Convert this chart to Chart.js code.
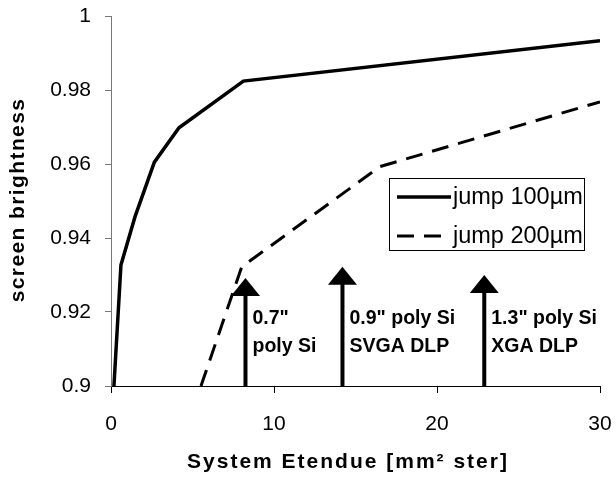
<!DOCTYPE html>
<html>
<head>
<meta charset="utf-8">
<script src="https://cdn.jsdelivr.net/npm/chart.js@4.4.1/dist/chart.umd.min.js"></script>
<style>
  html, body { margin: 0; padding: 0; background: #fff; }
  canvas { display: block; }
</style>
</head>
<body>
<canvas id="c" width="616" height="477"></canvas>
<script>
// ---- data ----
const seriesNames = ['jump 100µm', 'jump 200µm'];
const solidX = [0.18, 0.61, 1.47, 2.66, 4.17, 8.12, 30];
const solidY = [0.9, 0.9327, 0.9457, 0.9605, 0.9698, 0.9824, 0.9933];
const dashX = [5.52, 8.02, 16.5, 30];
const dashY = [0.9, 0.9322, 0.9593, 0.9768];
const arrowX = [8.25, 14.2, 22.9];
const arrowTop = [0.9292, 0.9322, 0.930];
const arrowLabels = [['0.7"', 'poly Si'], ['0.9" poly Si', 'SVGA DLP'], ['1.3" poly Si', 'XGA DLP']];
const xTickValues = [0, 10, 20, 30];
const yTickValues = [0.9, 0.92, 0.94, 0.96, 0.98, 1];
const yTickLabels = ['0.9', '0.92', '0.94', '0.96', '0.98', '1'];
const xTitle = 'System Etendue [mm² ster]';
const yTitle = 'screen brightness';

const FONT = '"Liberation Sans", Arial, Helvetica, sans-serif';

function pts(xs, ys) { return xs.map((x, i) => ({ x: x, y: ys[i] })); }

const overlay = {
  id: 'overlay',
  afterDatasetsDraw(chart) {
    const ctx = chart.ctx;
    const xs = chart.scales.x, ys = chart.scales.y;
    const base = ys.getPixelForValue(ys.min);
    ctx.save();
    ctx.fillStyle = '#000';
    for (let i = 0; i < arrowX.length; i++) {
      const px = xs.getPixelForValue(arrowX[i]);
      const top = ys.getPixelForValue(arrowTop[i]);
      const headH = 18, headW = 29;
      ctx.fillRect(px - 2, top + headH - 1, 4, base - (top + headH - 1));
      ctx.beginPath();
      ctx.moveTo(px, top);
      ctx.lineTo(px + headW / 2, top + headH);
      ctx.lineTo(px - headW / 2, top + headH);
      ctx.closePath();
      ctx.fill();
      ctx.font = 'bold 19.5px ' + FONT;
      ctx.textAlign = 'left';
      ctx.textBaseline = 'alphabetic';
      const lines = arrowLabels[i];
      for (let k = 0; k < lines.length; k++) {
        ctx.fillText(lines[k], px + 7, 324 + k * 28);
      }
    }
    ctx.restore();
  },
  afterDraw(chart) {
    const ctx = chart.ctx;
    ctx.save();
    ctx.fillStyle = '#000';
    try { ctx.letterSpacing = '2px'; } catch (e) {}
    ctx.font = 'bold 21px ' + FONT;
    ctx.textAlign = 'center';
    ctx.textBaseline = 'alphabetic';
    ctx.fillText(xTitle, 348, 468);
    try { ctx.letterSpacing = '1.4px'; } catch (e) {}
    ctx.translate(24, 200);
    ctx.rotate(-Math.PI / 2);
    ctx.fillText(yTitle, 0, 0);
    ctx.restore();

    ctx.save();
    ctx.strokeStyle = '#000';
    ctx.lineWidth = 1;
    ctx.strokeRect(389.5, 178.5, 195, 72);
    const rows = [197, 236];
    chart.data.datasets.forEach((ds, i) => {
      ctx.beginPath();
      ctx.lineWidth = ds.borderWidth;
      ctx.setLineDash(ds.borderDash || []);
      ctx.moveTo(397, rows[i]);
      ctx.lineTo(451, rows[i]);
      ctx.stroke();
      ctx.setLineDash([]);
      ctx.fillStyle = '#000';
      ctx.font = '23.5px ' + FONT;
      ctx.textAlign = 'left';
      ctx.textBaseline = 'middle';
      ctx.fillText(ds.label, 453, rows[i] + 1);
    });
    ctx.restore();
  }
};

new Chart(document.getElementById('c'), {
  type: 'line',
  data: {
    datasets: [
      { label: seriesNames[0], data: pts(solidX, solidY), borderColor: '#000', borderWidth: 3.5,
        pointRadius: 0, tension: 0, fill: false },
      { label: seriesNames[1], data: pts(dashX, dashY), borderColor: '#000', borderWidth: 3,
        borderDash: [17, 10], pointRadius: 0, tension: 0, fill: false }
    ]
  },
  options: {
    responsive: false,
    animation: false,
    devicePixelRatio: 1,
    layout: { padding: { left: 0, right: 16, top: 16, bottom: 0 } },
    plugins: { legend: { display: false }, tooltip: { enabled: false } },
    scales: {
      x: {
        type: 'linear', min: 0, max: 30,
        afterBuildTicks: s => { s.ticks = xTickValues.map(v => ({ value: v })); },
        ticks: { color: '#000', font: { family: FONT, size: 21 }, padding: 19, maxRotation: 0 },
        grid: { drawOnChartArea: false, drawTicks: true, tickLength: 7, color: '#000' },
        border: { display: true, color: '#000', width: 1 },
        afterFit: s => { s.height = 91; s.paddingLeft = 0; s.paddingRight = 0; }
      },
      y: {
        type: 'linear', min: 0.9, max: 1,
        afterBuildTicks: s => { s.ticks = yTickValues.map(v => ({ value: v })); },
        ticks: {
          color: '#000', font: { family: FONT, size: 21 }, padding: 14,
          callback: v => yTickLabels[yTickValues.findIndex(t => Math.abs(t - v) < 1e-9)]
        },
        grid: { drawOnChartArea: false, drawTicks: true, tickLength: 6, color: '#777' },
        border: { display: true, color: '#777', width: 1 },
        afterFit: s => { s.width = 111; s.paddingTop = 0; s.paddingBottom = 0; }
      }
    }
  },
  plugins: [overlay]
});
</script>
</body>
</html>
